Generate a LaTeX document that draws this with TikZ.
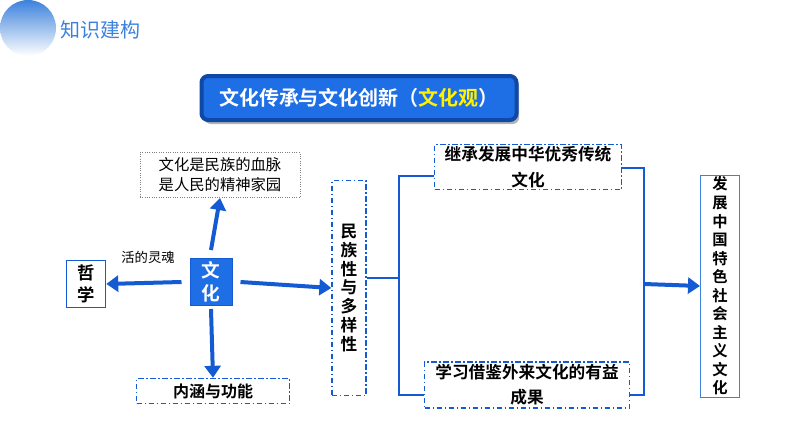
\documentclass[tikz,border=0pt]{standalone}
\usepackage{fontspec}
\setmainfont{Noto Sans CJK SC}
\newfontfamily\cjkb{Noto Sans CJK SC Bold}
\usetikzlibrary{shadows,arrows.meta}
\definecolor{kblue}{RGB}{20,90,210}
\definecolor{tblue}{RGB}{30,110,230}
\definecolor{lblue}{RGB}{60,130,220}
\tikzset{every picture/.style={line width=0.75pt}}
\tikzset{
  dashbox/.style={draw=kblue,dash pattern=on 4pt off 2pt on 1pt off 2pt,line width=1pt,fill=white},
  fatarrow/.style={draw=kblue,line width=3pt,-{Triangle[length=9pt,width=12pt]}},
  bline/.style={draw=kblue,line width=1.8pt},
  vtext/.style={align=center,font=\cjkb\fontsize{12.5}{14.2}\selectfont,inner sep=0pt}
}
\begin{document}
\begin{tikzpicture}[x=0.75pt,y=0.75pt,yscale=-1,xscale=1]
        \useasboundingbox (0,0) rectangle (794,447);

        %Header circle
        \shade[top color=lblue,bottom color=white] (28,28) circle (28);
        % Header text
        \node[anchor=west,inner sep=0pt,text=lblue,font=\fontsize{15}{18}\selectfont] (head) at (60,30) {知识建构};

        %Title box
        \node[draw=kblue!80!black,line width=3pt,fill=tblue,rounded corners=5pt,minimum width=315*0.75pt,minimum height=44*0.75pt,
              drop shadow={shadow xshift=2pt,shadow yshift=-3pt,opacity=0.6},text=white,font=\cjkb\fontsize{15}{18}\selectfont] (title) at (359,98)
              {文化传承与文化创新（\textcolor{yellow}{文化观}）};

        % Left part
        \node[fill=tblue,draw=kblue,minimum width=42*0.75pt,minimum height=47*0.75pt,text=white,vtext,font=\cjkb\fontsize{14}{17}\selectfont] (wh) at (211,282) {文\\化};
        \node[draw=kblue,line width=1.2pt,minimum width=39*0.75pt,minimum height=47*0.75pt,vtext,font=\cjkb\fontsize{13}{16}\selectfont] (zx) at (86,284) {哲\\学};
        \node[draw=gray,densely dotted,minimum width=160*0.75pt,minimum height=45*0.75pt,align=center,inner sep=0pt,font=\fontsize{11.5}{15}\selectfont] (xm) at (220,175) {文化是民族的血脉\\是人民的精神家园};
        \node[dashbox,minimum width=153*0.75pt,minimum height=25*0.75pt,font=\cjkb\fontsize{12}{14}\selectfont,inner sep=0pt] (nh) at (213,391) {内涵与功能};
        \node[dashbox,minimum width=34*0.75pt,minimum height=215*0.75pt,vtext] (mz) at (349,288) {民\\族\\性\\与\\多\\样\\性};

        \draw[fatarrow] (wh.north) ++(0,-8) -- (xm.south);
        \draw[fatarrow] (wh.west) ++(-8,0) -- (zx.east);
        \draw[fatarrow] (wh.east) ++(8,0) -- (mz.west);
        \draw[fatarrow] (wh.south) ++(0,3) -- (nh.north);
        \node[font=\fontsize{10}{12}\selectfont,inner sep=0pt] (hd) at (148,257) {活的灵魂};

        % Right part
        \node[dashbox,minimum width=187*0.75pt,minimum height=45*0.75pt,align=center,inner sep=0pt,font=\cjkb\fontsize{12.5}{19}\selectfont] (jc) at (528,167) {继承发展中华优秀传统\\文化};
        \node[dashbox,minimum width=205*0.75pt,minimum height=46*0.75pt,align=center,inner sep=0pt,font=\cjkb\fontsize{12.5}{19}\selectfont] (xx) at (527,385) {学习借鉴外来文化的有益\\成果};
        \node[draw=lblue,minimum width=39*0.75pt,minimum height=222*0.75pt,vtext,font=\cjkb\fontsize{11.5}{13.9}\selectfont] (fz) at (720,286) {发\\展\\中\\国\\特\\色\\社\\会\\主\\义\\文\\化};

        \coordinate (lb) at (399,278);
        \coordinate (rb) at (644,284);
        \draw[bline] (mz.east |- lb) -- (lb);
        \draw[bline] (jc.west |- 0,176) -- (lb |- 0,176) -- (lb |- 0,395) -- (xx.west |- 0,395);
        \draw[bline] (jc.east |- 0,168) -- (rb |- 0,168) -- (rb |- 0,395) -- (xx.east |- 0,395);
        \draw[fatarrow] (rb) -- (fz.west);
\end{tikzpicture}
\end{document}
